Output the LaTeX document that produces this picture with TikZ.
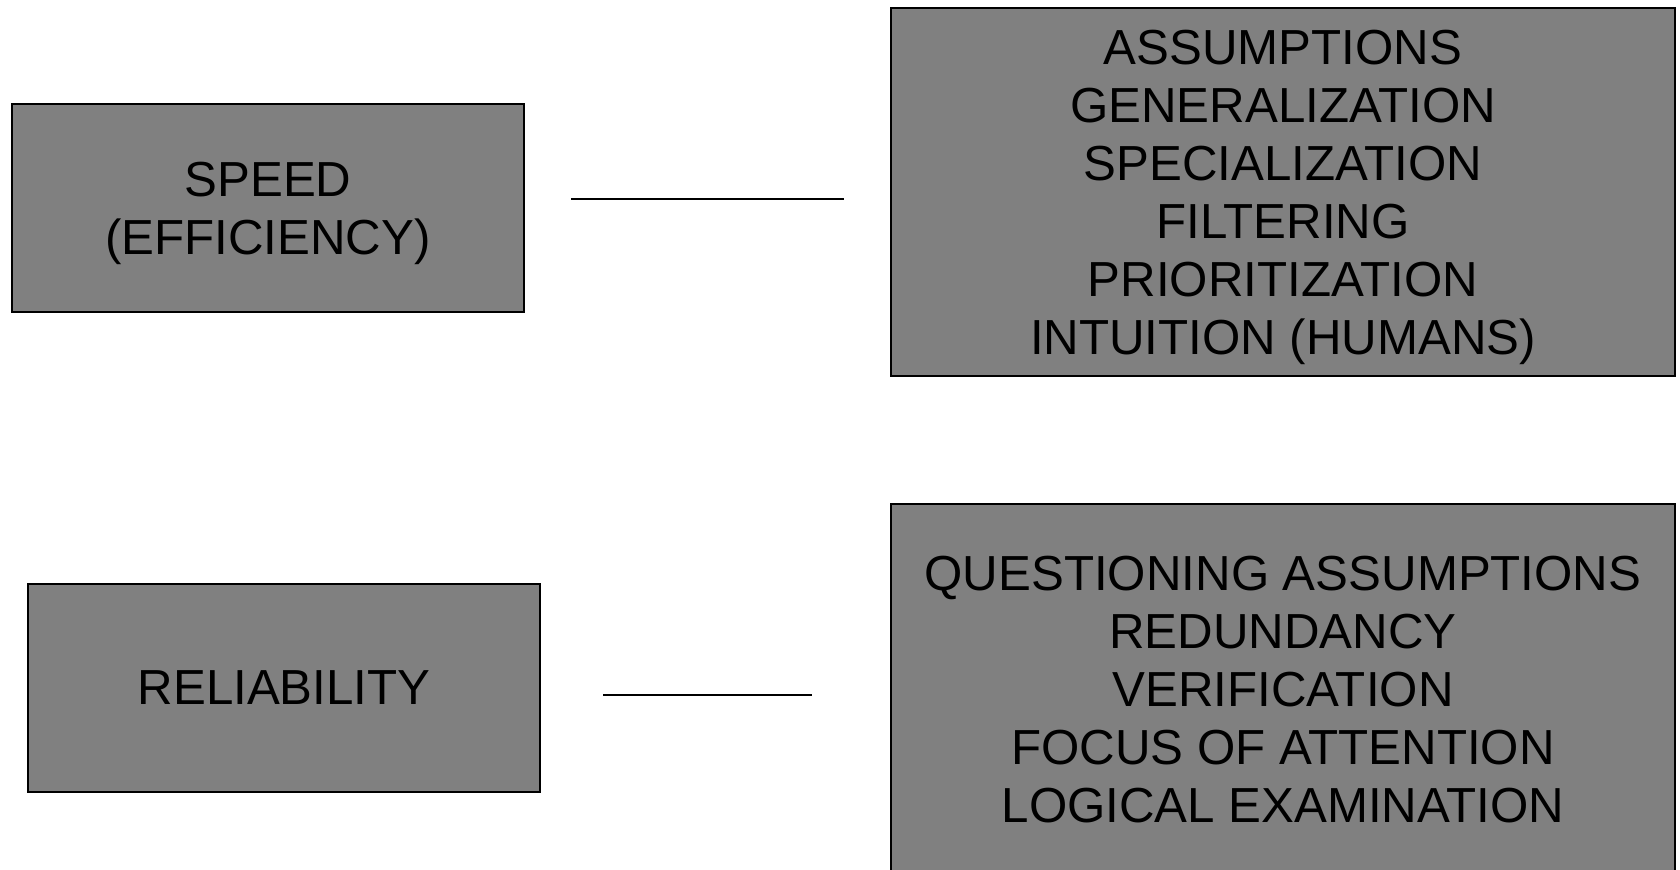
\documentclass[tikz,border=0pt]{standalone}
\usepackage{fontspec}
\setmainfont{Liberation Sans}
\usepackage{xcolor}
\definecolor{boxgray}{RGB}{128,128,128}

\begin{document}
\begin{tikzpicture}[x=0.01cm,y=-0.01cm,
	box/.style={draw=black,line width=0.5pt,fill=boxgray,inner sep=0pt,outer sep=0pt,
		align=center,text depth=0pt,font=\fontsize{14}{16.5}\selectfont},
	link/.style={draw=black,line width=0.5pt}]
	\useasboundingbox (0,0) rectangle (1680,869);
	
	\node[box,minimum width=5.12cm,minimum height=2.08cm] (speed) at (268,208) {SPEED\\(EFFICIENCY)};
	\node[box,minimum width=7.84cm,minimum height=3.685cm] (speedways) at (1283,192)
		{ASSUMPTIONS\\GENERALIZATION\\SPECIALIZATION\\FILTERING\\PRIORITIZATION\\INTUITION (HUMANS)};
	
	\node[box,minimum width=5.12cm,minimum height=2.08cm] (reliab) at (284,688) {RELIABILITY};
	\node[box,minimum width=7.84cm,minimum height=3.7cm] (reliabways) at (1283,689)
		{QUESTIONING ASSUMPTIONS\\REDUNDANCY\\VERIFICATION\\FOCUS OF ATTENTION\\LOGICAL EXAMINATION};
	
	\coordinate (speedA) at (571,199);
	\coordinate (speedB) at (844,199);
	\draw[link] (speedA) -- (speedB);
	
	\coordinate (reliabA) at (603,695);
	\coordinate (reliabB) at (812,695);
	\draw[link] (reliabA) -- (reliabB);
	
\end{tikzpicture}
\end{document}
